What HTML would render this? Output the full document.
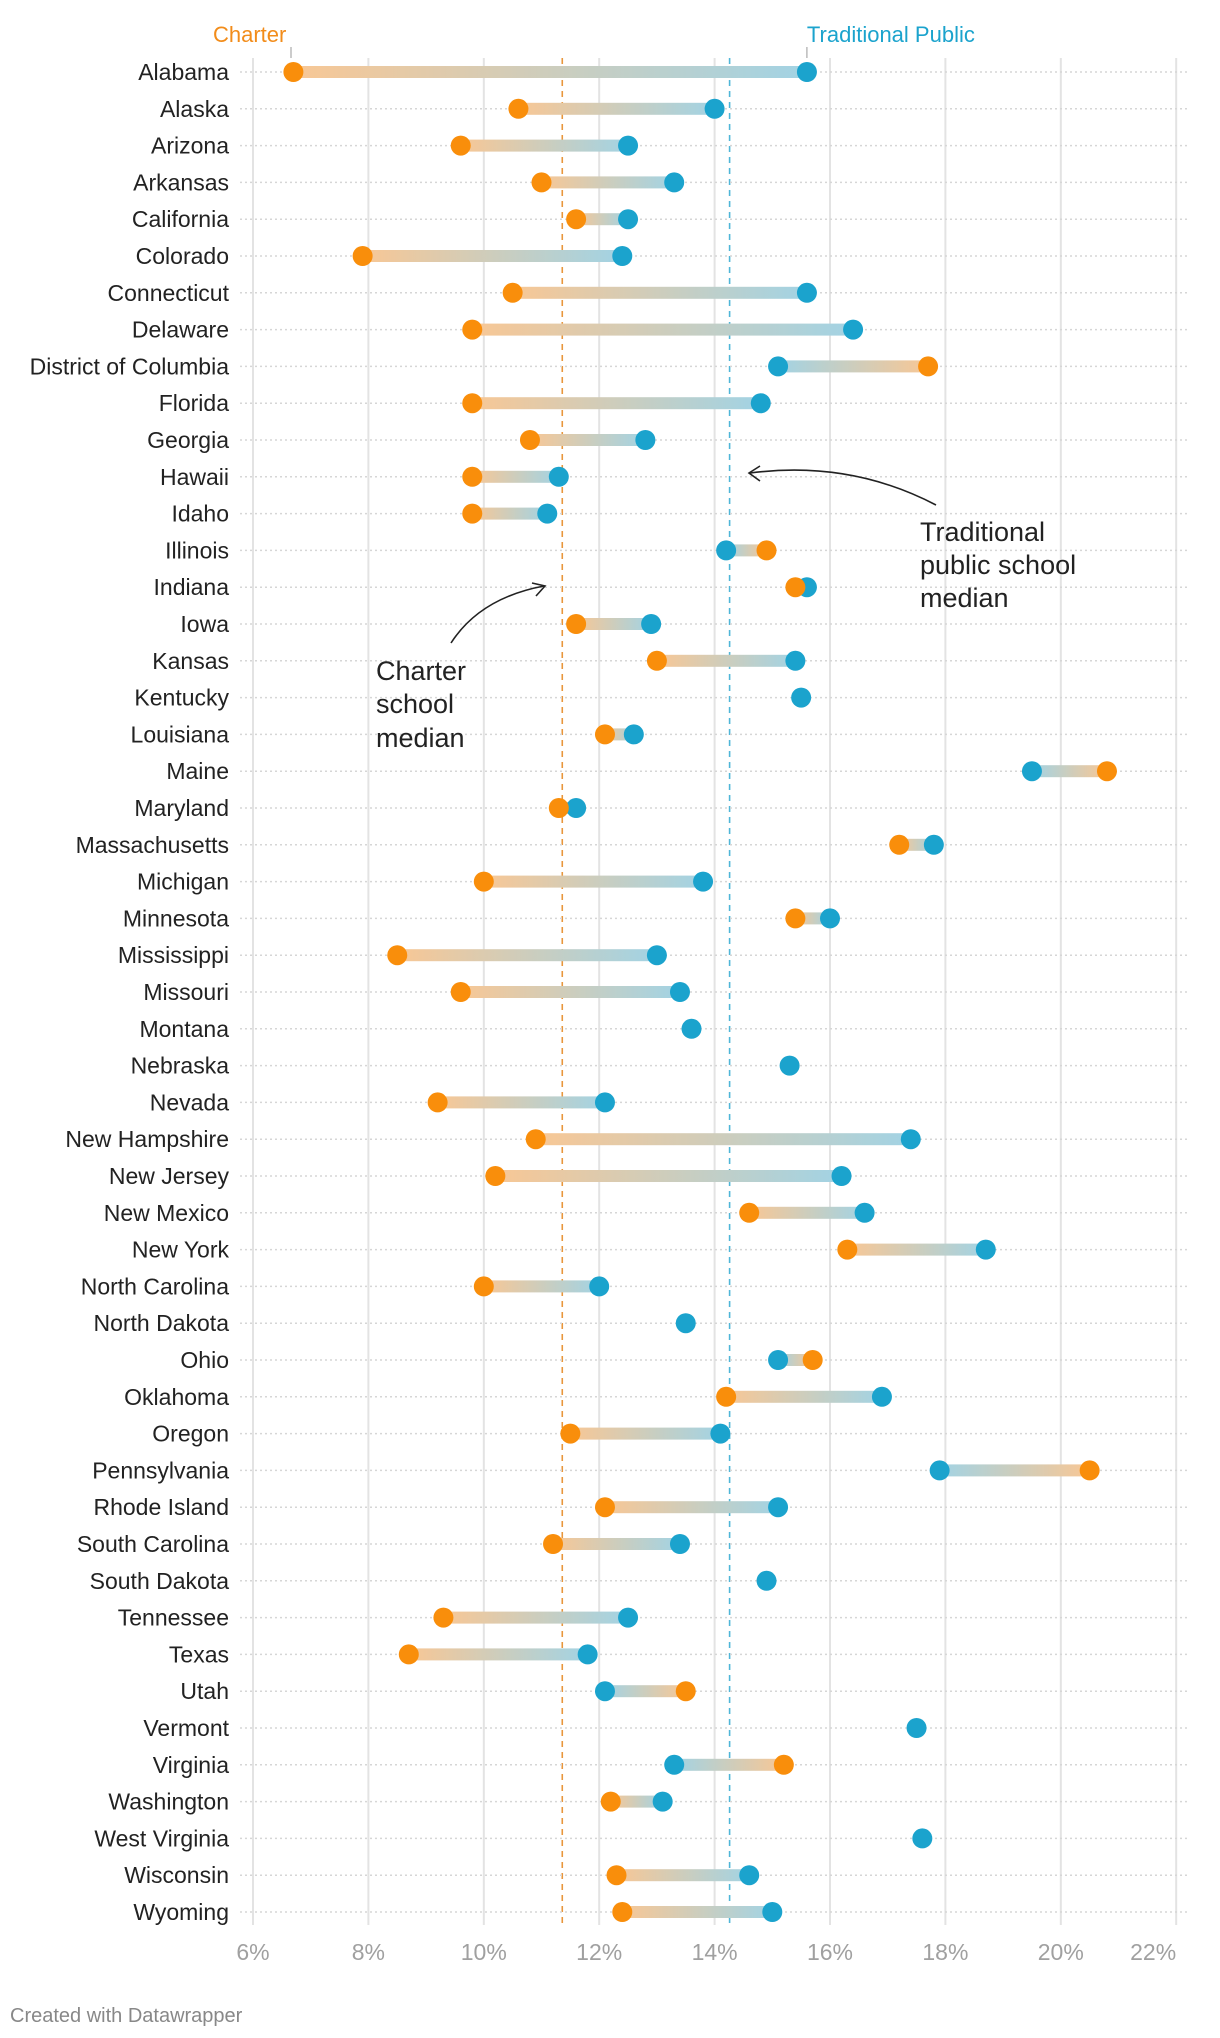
<!DOCTYPE html>
<html><head><meta charset="utf-8"><style>
html,body{margin:0;padding:0;background:#fff;}
svg{display:block;font-family:"Liberation Sans",sans-serif;}
</style></head><body>
<svg id="chart" width="1220" height="2038" viewBox="0 0 1220 2038">
<g id="grid"></g>
<g id="rows"></g>
<g id="marks"></g>
<g id="annot">
  <text x="213" y="42" font-size="22" fill="#f28c1a">Charter</text>
  <line x1="291" y1="47" x2="291" y2="58" stroke="#999" stroke-width="1"/>
  <text id="tpLabel" x="808" y="42" font-size="22" fill="#1ba3cd">Traditional Public</text>
  <line id="tpTick" x1="805" y1="47" x2="805" y2="58" stroke="#999" stroke-width="1"/>
  <g font-size="27" fill="#222">
    <text x="920" y="541">Traditional</text>
    <text x="920" y="574">public school</text>
    <text x="920" y="607">median</text>
  </g>
  <path d="M936,505 Q850,460 750,473" fill="none" stroke="#222" stroke-width="1.6"/>
  <path d="M760,466 L749,473 L760,481" fill="none" stroke="#222" stroke-width="1.6"/>
  <g font-size="27" fill="#222">
    <text x="376" y="680">Charter</text>
    <text x="376" y="713">school</text>
    <text x="376" y="747">median</text>
  </g>
  <path d="M451,643 Q480,598 544,586" fill="none" stroke="#222" stroke-width="1.6"/>
  <path d="M532,583 L545,586 L536,596" fill="none" stroke="#222" stroke-width="1.6"/>
  <text x="10" y="2022" font-size="20" fill="#888">Created with Datawrapper</text>
</g>
<defs id="defs"></defs>
</svg>
<script>
const states = ["Alabama","Alaska","Arizona","Arkansas","California","Colorado","Connecticut","Delaware","District of Columbia","Florida","Georgia","Hawaii","Idaho","Illinois","Indiana","Iowa","Kansas","Kentucky","Louisiana","Maine","Maryland","Massachusetts","Michigan","Minnesota","Mississippi","Missouri","Montana","Nebraska","Nevada","New Hampshire","New Jersey","New Mexico","New York","North Carolina","North Dakota","Ohio","Oklahoma","Oregon","Pennsylvania","Rhode Island","South Carolina","South Dakota","Tennessee","Texas","Utah","Vermont","Virginia","Washington","West Virginia","Wisconsin","Wyoming"];
const charter = [6.7,10.6,9.6,11.0,11.6,7.9,10.5,9.8,17.7,9.8,10.8,9.8,9.8,14.9,15.4,11.6,13.0,null,12.1,20.8,11.3,17.2,10.0,15.4,8.5,9.6,null,null,9.2,10.9,10.2,14.6,16.3,10.0,null,15.7,14.2,11.5,20.5,12.1,11.2,null,9.3,8.7,13.5,null,15.2,12.2,null,12.3,12.4];
const publicSch = [15.6,14.0,12.5,13.3,12.5,12.4,15.6,16.4,15.1,14.8,12.8,11.3,11.1,14.2,15.6,12.9,15.4,15.5,12.6,19.5,11.6,17.8,13.8,16.0,13.0,13.4,13.6,15.3,12.1,17.4,16.2,16.6,18.7,12.0,13.5,15.1,16.9,14.1,17.9,15.1,13.4,14.9,12.5,11.8,12.1,17.5,13.3,13.1,17.6,14.6,15.0];
const ticks = [6,8,10,12,14,16,18,20,22];
const tickLabels = ["6%","8%","10%","12%","14%","16%","18%","20%","22%"];
const medianCharter = 11.36;
const medianPublic = 14.26;

const NS="http://www.w3.org/2000/svg";
const x = v => 253 + (v-6)*57.7;
const y = i => 72 + i*36.8;
function mk(tag, attrs, parent){const e=document.createElementNS(NS,tag);for(const k in attrs)e.setAttribute(k,attrs[k]);parent.appendChild(e);return e;}
const grid=document.getElementById('grid'), rows=document.getElementById('rows'), marks=document.getElementById('marks'), defs=document.getElementById('defs');

ticks.forEach((t,i)=>{
  const l=mk('line',{x1:x(t),x2:x(t),y1:58,y2:1925,stroke:'#e3e3e3','stroke-width':2},grid);
  
  
  const last=i===ticks.length-1;
  const tx=mk('text',{x:x(t),y:1960,'font-size':23,fill:'#a0a0a0','text-anchor':last?'end':'middle'},grid);
  tx.textContent=tickLabels[i];
  
  
});
[[medianCharter,'#e8963c','charter-median-line'],[medianPublic,'#4fb6d8','public-median-line']].forEach(m=>{
  const l=mk('line',{x1:x(m[0]),x2:x(m[0]),y1:58,y2:1925,stroke:m[1],'stroke-width':1.6,'stroke-dasharray':'6,5'},grid);
  
  
});
const tp=document.getElementById('tpLabel'), tk=document.getElementById('tpTick');
tp.setAttribute('x', x(publicSch[0])); tk.setAttribute('x1',x(publicSch[0])); tk.setAttribute('x2',x(publicSch[0]));

states.forEach((s,i)=>{
  const yy=y(i);
  const d=mk('line',{x1:240,x2:1188,y1:yy,y2:yy,stroke:'#d6d6d6','stroke-width':1.5,'stroke-dasharray':'2,3'},rows);
  
  
  const t=mk('text',{x:229,y:yy+8,'font-size':23,fill:'#222','text-anchor':'end'},rows);
  t.textContent=s;
  
  
  const c=charter[i], p=publicSch[i];
  if(c!==null){
    const g=mk('linearGradient',{id:'g'+i,gradientUnits:'userSpaceOnUse',x1:x(c),x2:x(p),y1:0,y2:0},defs);
    mk('stop',{offset:0,'stop-color':'#f8c795'},g);
    mk('stop',{offset:1,'stop-color':'#a2d3e4'},g);
    const b=mk('rect',{x:Math.min(x(c),x(p)),y:yy-6,width:Math.abs(x(p)-x(c)),height:12,fill:'url(#g'+i+')'},marks);
    
    
  }
  const pc=mk('circle',{cx:x(p),cy:yy,r:10,fill:'#1ba3cd'},marks);
  
  
  if(c!==null){
    const cc=mk('circle',{cx:x(c),cy:yy,r:10,fill:'#f98e0b'},marks);
    
    
  }
});
</script>
</body></html>
